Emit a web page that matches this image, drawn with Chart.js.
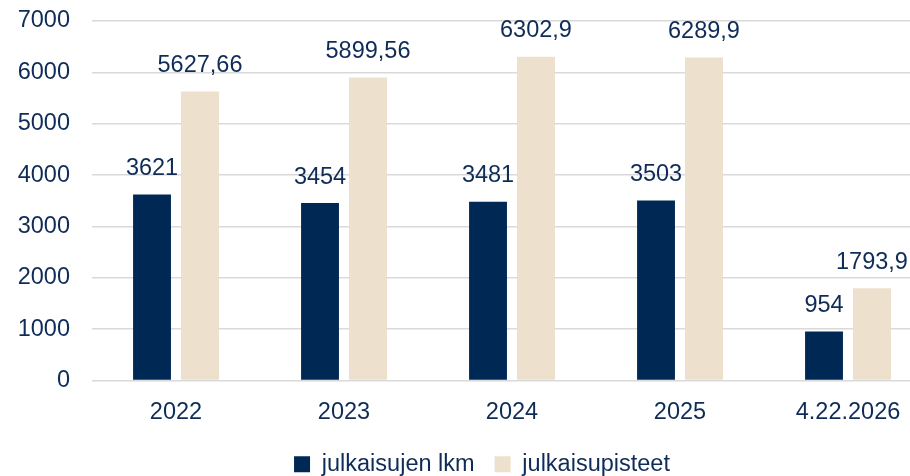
<!DOCTYPE html>
<html>
<head>
<meta charset="utf-8">
<script src="https://cdn.jsdelivr.net/npm/chart.js@4.4.1/dist/chart.umd.min.js"></script>
<style>
  html, body { margin: 0; padding: 0; background: #fff; overflow: hidden; }
  #wrap { width: 940px; height: 476px; }
</style>
</head>
<body>
<div id="wrap"><canvas id="pubChart" width="940" height="476"></canvas></div>
<script>
// chart data
const years = ['2022', '2023', '2024', '2025', '4.22.2026'];
const publicationCount = [3621, 3454, 3481, 3503, 954];
const publicationPoints = [5627.66, 5899.56, 6302.9, 6289.9, 1793.9];
const yTicks = [0, 1000, 2000, 3000, 4000, 5000, 6000, 7000];

const textColor = '#0E2C57';
const navy = '#002855';
const beige = '#EDE0CC';
const fontFamily = '"Liberation Sans", Arial, sans-serif';
const fontSize = 23.5;

// values above bars, Finnish decimal comma
const valueLabels = {
    id: 'valueLabels',
    afterDatasetsDraw(chart) {
        const ctx = chart.ctx;
        ctx.save();
        ctx.font = fontSize + 'px ' + fontFamily;
        ctx.fillStyle = textColor;
        ctx.textAlign = 'center';
        ctx.textBaseline = 'middle';
        chart.data.datasets.forEach((ds, i) => {
            chart.getDatasetMeta(i).data.forEach((bar, j) => {
                const txt = String(ds.data[j]).replace('.', ',');
                ctx.fillText(txt, bar.x, bar.y - 26);
            });
        });
        ctx.restore();
    }
};

// legend sits a bit right of canvas centre in the original
const legendShift = {
    id: 'legendShift',
    afterLayout(chart) {
        chart.legend.left += 16;
        chart.legend.right += 16;
    }
};

new Chart(document.getElementById('pubChart'), {
    type: 'bar',
    data: {
        labels: years,
        datasets: [
            { label: 'julkaisujen lkm', data: publicationCount, backgroundColor: navy,
              categoryPercentage: 0.571, barPercentage: 0.79 },
            { label: 'julkaisupisteet', data: publicationPoints, backgroundColor: beige,
              categoryPercentage: 0.571, barPercentage: 0.79 }
        ]
    },
    options: {
        responsive: false,
        animation: false,
        layout: { padding: { left: 0, right: 8, top: 21, bottom: -10 } },
        scales: {
            x: {
                afterFit: (scale) => { scale.height = 52; },
                grid: { display: false },
                border: { display: false },
                ticks: { color: textColor, font: { size: fontSize, family: fontFamily }, padding: 10 }
            },
            y: {
                min: 0,
                max: 7000,
                afterBuildTicks: (scale) => { scale.ticks = yTicks.map(v => ({ value: v })); },
                afterFit: (scale) => { scale.width = 92; },
                grid: { color: '#D9D9D9', lineWidth: 1.5, drawTicks: true, tickLength: 22, tickColor: 'rgba(0,0,0,0)' },
                border: { display: false },
                ticks: {
                    color: textColor,
                    font: { size: fontSize, family: fontFamily },
                    padding: 0,
                    callback: (v) => String(v)
                }
            }
        },
        plugins: {
            legend: {
                position: 'bottom',
                labels: {
                    color: textColor,
                    font: { size: fontSize, family: fontFamily },
                    boxWidth: 16,
                    boxHeight: 16,
                    padding: 20
                }
            },
            tooltip: { enabled: false }
        }
    },
    plugins: [valueLabels, legendShift]
});
</script>
</body>
</html>
